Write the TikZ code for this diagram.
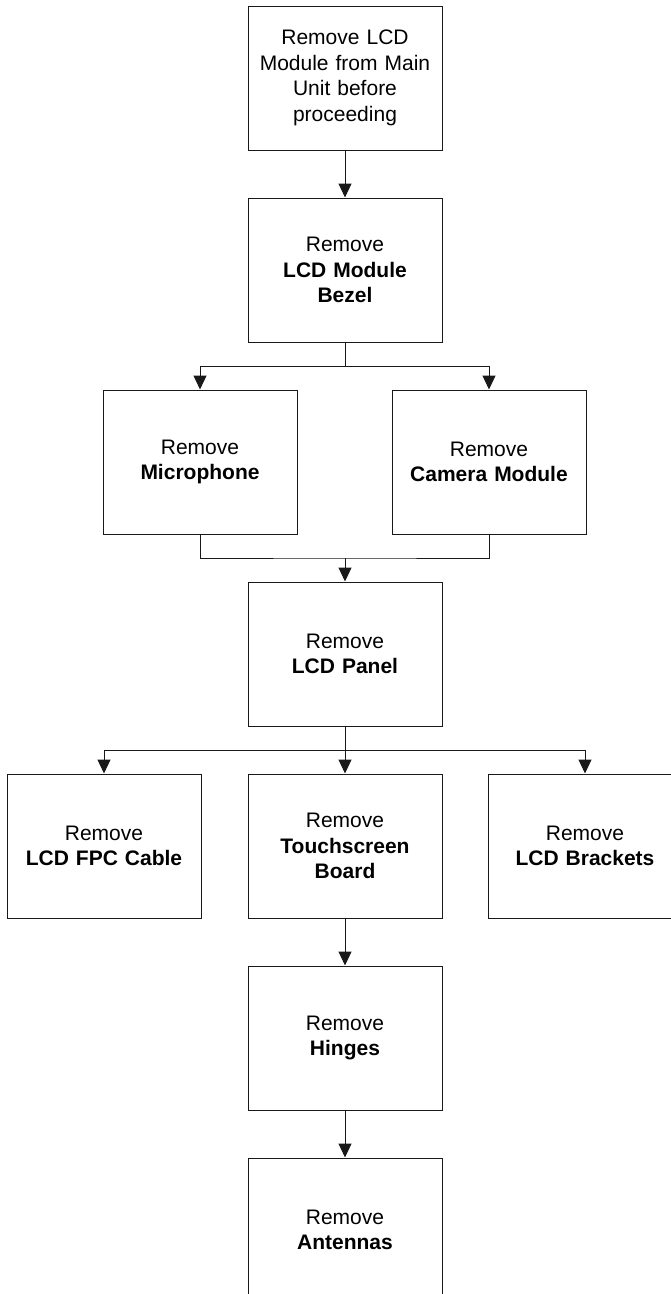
\documentclass[tikz,border=0pt]{standalone}
\usepackage{fontspec}
\setmainfont{Liberation Sans}
\usetikzlibrary{arrows.meta}

\begin{document}
\begin{tikzpicture}[x=1pt, y=-1pt,
  stepbox/.style={draw=black!90, line width=1pt, minimum width=194pt, minimum height=144pt,
    text width=186pt, inner sep=0pt, align=center, font=\fontsize{21}{25.5}\selectfont},
  link/.style={draw=black!90, line width=1pt, -{Triangle[width=13pt,length=14pt]}},
  wire/.style={draw=black!90, line width=1pt}]
% Page frame, same proportions as the drawing
\useasboundingbox (0,0) rectangle (670,1294);
% Steps, one row every 192pt
\node[stepbox] (detach)   at (345,78)   {Remove LCD\\Module from Main\\Unit before\\proceeding};
\node[stepbox] (bezel)    at (345,270)  {Remove\\\textbf{LCD Module}\\\textbf{Bezel}};
\node[stepbox] (mic)      at (200,462)  {Remove\\\textbf{Microphone}};
\node[stepbox] (camera)   at (489,462)  {Remove\\\textbf{Camera Module}};
\node[stepbox] (panel)    at (345,654)  {Remove\\\textbf{LCD Panel}};
\node[stepbox] (fpc)      at (104,846)  {Remove\\\textbf{LCD FPC Cable}};
\node[stepbox] (touch)    at (345,846)  {Remove\\\textbf{Touchscreen}\\\textbf{Board}};
\node[stepbox] (brackets) at (585,846)  {Remove\\\textbf{LCD Brackets}};
\node[stepbox] (hinges)   at (345,1038) {Remove\\\textbf{Hinges}};
\node[stepbox] (antennas) at (345,1230) {Remove\\\textbf{Antennas}};
% Branch and join points
\coordinate (split1) at (345,366);
\coordinate (join1)  at (345,558);
\coordinate (split2) at (345,750);
% Connectors
\draw[link] (detach) -- (bezel);
\draw[wire] (bezel.south) -- (split1);
\draw[link] (split1) -| (mic);
\draw[link] (split1) -| (camera);
\draw[wire] (mic.south) |- (join1) -| (camera.south);
\draw[link] (join1) -- (panel);
\draw[wire] (panel.south) -- (split2);
\draw[link] (split2) -| (fpc);
\draw[link] (split2) -- (touch);
\draw[link] (split2) -| (brackets);
\draw[link] (touch) -- (hinges);
\draw[link] (hinges) -- (antennas);
\end{tikzpicture}
\end{document}
